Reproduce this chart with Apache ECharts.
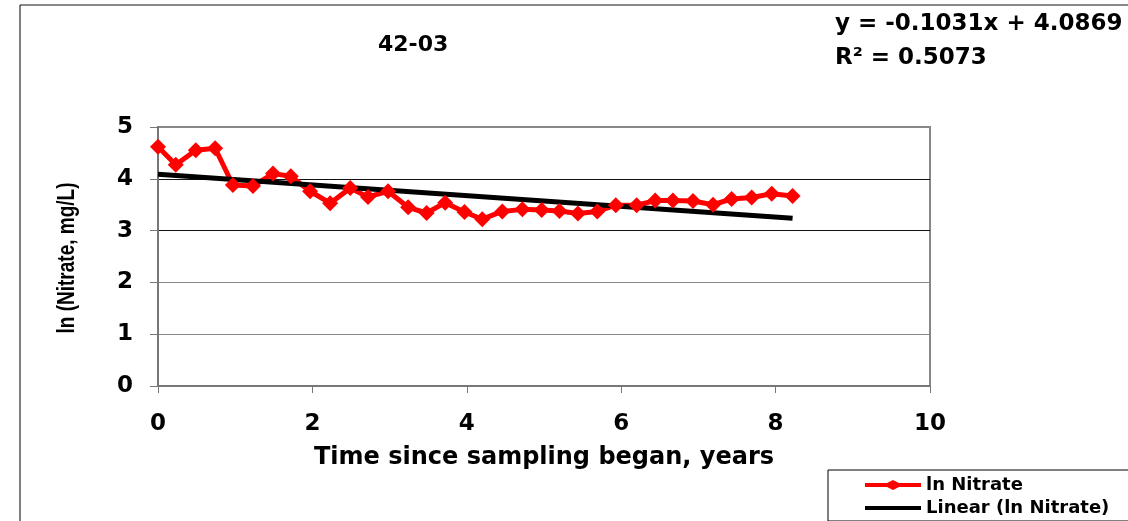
<!DOCTYPE html>
<html>
<head>
<meta charset="utf-8">
<script src="https://cdn.jsdelivr.net/npm/echarts@6/dist/echarts.min.js"></script>
<style>
  html, body { margin: 0; padding: 0; background: #fff; }
  #chart { width: 1128px; height: 521px; }
</style>
</head>
<body>
<div id="chart"></div>
<script>
// Годы с начала отбора проб
const years = [0, 0.23, 0.49, 0.74, 0.97, 1.23, 1.49, 1.72, 1.97, 2.23, 2.49, 2.72, 2.98,
  3.24, 3.48, 3.72, 3.97, 4.2, 4.46, 4.72, 4.97, 5.2, 5.44, 5.69, 5.93, 6.2, 6.44,
  6.67, 6.93, 7.19, 7.43, 7.69, 7.95, 8.22];
// ln (нитраты, мг/л)
const lnNitrate = [4.62, 4.27, 4.55, 4.59, 3.88, 3.86, 4.10, 4.05, 3.76, 3.53, 3.82, 3.65, 3.76,
  3.45, 3.34, 3.54, 3.36, 3.22, 3.37, 3.41, 3.40, 3.38, 3.33, 3.37, 3.49, 3.49, 3.58,
  3.58, 3.57, 3.50, 3.61, 3.64, 3.71, 3.67];
// Концы линии тренда, как на картинке
const trendPoints = [[0, 4.087], [8.22, 3.240]];
const xTicks = [0, 2, 4, 6, 8, 10];
const yTicks = [0, 1, 2, 3, 4, 5];

const font = "'DejaVu Sans', sans-serif";
const chart = echarts.init(document.getElementById("chart"));

const option = {
  animation: false,
  grid: { left: 158, right: 198, top: 127, bottom: 135, show: true, borderColor: "#888", borderWidth: 2 },
  xAxis: {
    type: "value",
    min: xTicks[0], max: xTicks[xTicks.length - 1], interval: 2,
    name: "Time since sampling began, years",
    nameLocation: "middle", nameGap: 60,
    nameTextStyle: { fontFamily: font, fontWeight: "bold", fontSize: 24, color: "#000" },
    axisLine: { lineStyle: { color: "#777", width: 2 } },
    axisTick: { show: true, length: 7, lineStyle: { color: "#777", width: 1 } },
    axisLabel: { fontFamily: font, fontWeight: "bold", fontSize: 23, color: "#000", margin: 27 },
    splitLine: { show: false }
  },
  yAxis: {
    type: "value",
    min: yTicks[0], max: yTicks[yTicks.length - 1], interval: 1,
    axisLine: { show: true, lineStyle: { color: "#777", width: 2 } },
    axisTick: { show: true, length: 8, lineStyle: { color: "#777", width: 1 } },
    axisLabel: { fontFamily: font, fontWeight: "bold", fontSize: 23, color: "#000", margin: 25 },
    splitLine: { show: true, lineStyle: { color: ["#888", "#888", "#888", "#111", "#111", "#888"], width: 1 } }
  },
  legend: {
    orient: "vertical", left: 828, top: 470,
    itemWidth: 56, itemHeight: 10, itemGap: 5,
    padding: [6, 60, 4, 37],
    borderColor: "#000", borderWidth: 1,
    textStyle: { fontFamily: font, fontWeight: "bold", fontSize: 18, color: "#000" },
    data: [
      { name: "ln Nitrate", icon: "path://M0,3 L22,3 L28,0 L34,3 L56,3 L56,7 L34,7 L28,10 L22,7 L0,7 Z", itemStyle: { color: "#ff0000" } },
      { name: "Linear (ln Nitrate)", icon: "path://M0,3 L56,3 L56,7 L0,7 Z", itemStyle: { color: "#000" } }
    ]
  },
  graphic: [
    { type: "line", shape: { x1: 20, y1: 5, x2: 1128, y2: 5 }, style: { stroke: "#888", lineWidth: 2 } },
    { type: "line", shape: { x1: 20, y1: 5, x2: 20, y2: 521 }, style: { stroke: "#000", lineWidth: 1 } },
    { type: "text", left: 378, top: 34, style: { text: "42-03", font: "bold 22px " + font, fill: "#000" } },
    { type: "text", left: 835, top: 13, style: { text: "y = -0.1031x + 4.0869", font: "bold 23px " + font, fill: "#000" } },
    { type: "text", left: 835, top: 47, style: { text: "R² = 0.5073", font: "bold 23px " + font, fill: "#000" } },
    // подпись оси Y: повернута и растянута по толщине, как в исходнике
    {
      type: "text", x: 67, y: 258, rotation: Math.PI / 2, scaleY: 1.3,
      style: {
        text: "ln (Nitrate, mg/L)", font: "bold 19px 'Liberation Sans', Arial, sans-serif",
        fill: "#000", align: "center", verticalAlign: "middle"
      }
    }
  ],
  series: [
    {
      name: "ln Nitrate",
      type: "line",
      data: years.map((x, i) => [x, lnNitrate[i]]),
      symbol: "diamond", symbolSize: 16,
      itemStyle: { color: "#ff0000" },
      lineStyle: { color: "#ff0000", width: 5 }
    },
    {
      name: "Linear (ln Nitrate)",
      type: "line",
      data: trendPoints,
      symbol: "none",
      itemStyle: { color: "#000" },
      lineStyle: { color: "#000", width: 5 }
    }
  ]
};

chart.setOption(option);
</script>
</body>
</html>
